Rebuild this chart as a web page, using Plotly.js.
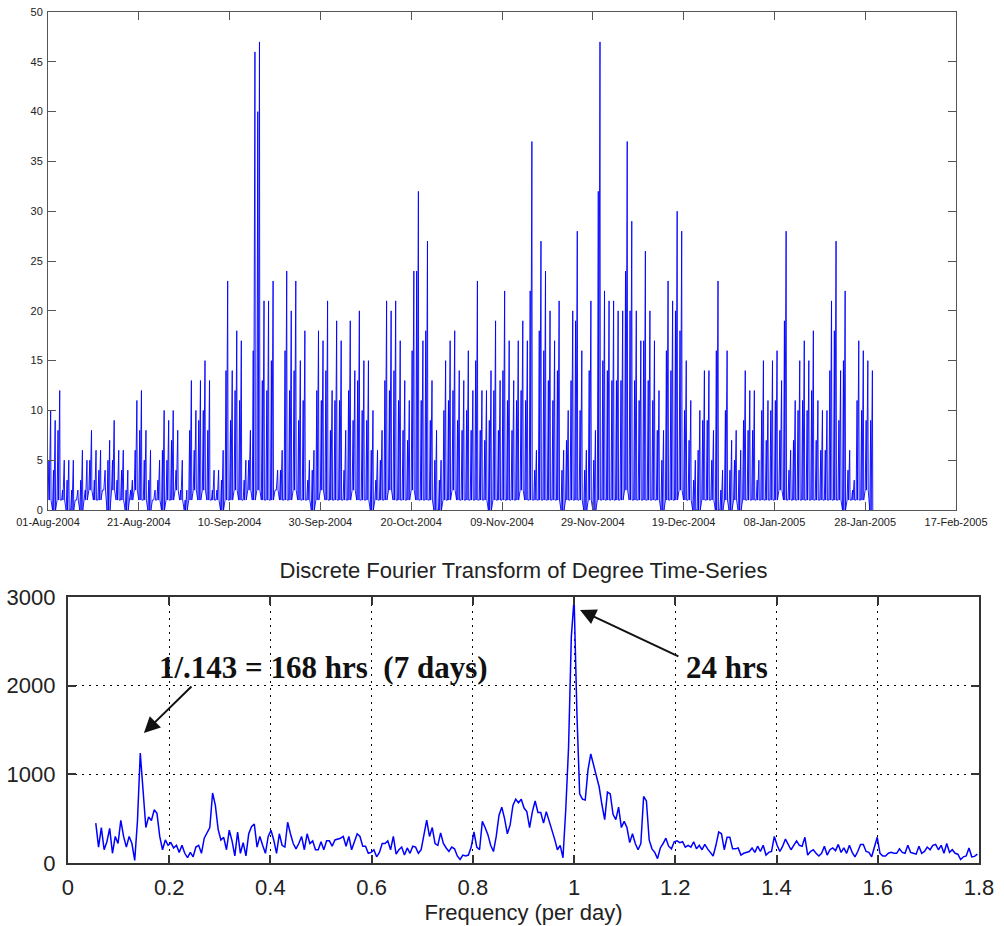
<!DOCTYPE html>
<html><head><meta charset="utf-8">
<script src="https://cdn.plot.ly/plotly-3.0.1.min.js"></script>
<style>html,body{margin:0;padding:0;background:#fff}#chart{width:1004px;height:926px}</style>
</head><body><div id="chart"></div>
<script>
// ---------- Top panel: degree time-series (per-day readings) ----------
const startDate = [2004, 7, 1]; // 01-Aug-2004 (UTC, month 0-based)
const dailyPeak = [
10,9,12,5,5,5,2,6,5,8,6,6,4,7,9,6,6,4,3,11,12,8,6,2,5,10,9,10,8,5,2,13,10,13,15,13,4,4,6,
23,14,18,17,5,8,46,47,21,21,23,4,6,24,20,23,15,18,5,6,18,17,21,12,19,
17,8,19,14,20,15,15,10,6,8,21,20,21,17,13,11,24,32,17,27,13,8,5,15,17,18,14,13,16,12,23,12,12,14,19,13,
22,17,13,17,19,17,37,6,27,24,20,17,21,6,10,20,28,16,6,21,8,47,22,21,21,20,20,37,29,20,17,26,20,17,12,8,23,
21,30,28,15,11,5,10,14,14,8,23,4,16,7,8,6,14,12,12,5,15,11,15,16,13,28,6,11,15,17,15,18,11,10,10,21,27,14,22,6,3,17,16,15,14
];
const dailySecond = [
5,4,8,2,3,2,1,3,2,5,3,4,2,5,5,3,4,2,2,6,8,5,3,1,3,6,5,7,4,2,1,8,6,9,10,8,2,2,3,
14,9,12,11,3,5,16,40,13,12,15,2,4,16,12,14,9,11,3,4,12,11,14,8,11,
11,4,12,9,13,10,9,6,3,5,13,12,14,11,8,7,16,24,11,18,9,5,3,10,11,12,9,8,10,8,15,8,7,9,12,8,
14,11,8,11,12,11,22,4,18,16,13,11,14,4,7,13,19,10,4,14,5,32,15,14,13,13,13,24,20,13,11,17,13,11,8,5,16,
14,20,18,10,7,3,6,9,9,5,16,2,10,4,5,4,9,8,8,3,10,7,10,11,8,19,4,7,10,11,10,12,7,6,6,14,18,9,15,4,2,11,10,9,9
];
const dailyLow = [
1,0,1,1,0,0,1,0,1,2,1,1,2,0,2,1,1,0,1,2,1,1,0,1,1,0,1,1,2,1,0,1,2,1,2,1,1,1,0,
1,1,2,1,1,2,1,2,1,1,1,2,1,1,1,2,1,1,1,0,1,2,1,1,1,
1,1,1,2,1,1,1,0,1,1,1,2,1,1,1,1,2,1,1,1,1,0,0,1,1,2,1,1,1,1,1,1,1,0,1,1,
1,1,1,1,2,1,1,1,1,1,1,1,1,0,1,1,1,1,0,1,0,1,1,1,1,1,1,2,1,1,1,1,1,1,1,0,1,
1,1,2,1,1,0,0,1,1,1,0,0,1,0,1,0,1,1,1,1,1,1,1,1,2,1,1,1,1,1,1,1,1,1,1,1,1,1,0,1,1,1,1,2,0
];
// hour of day at which each reading of a day is placed: low, second spike, low, main spike, low
const readingHours = [0, 5, 7, 14, 16];
const topTickDates = ['2004-08-01','2004-08-21','2004-09-10','2004-09-30','2004-10-20','2004-11-09','2004-11-29','2004-12-19','2005-01-08','2005-01-28','2005-02-17'];
const topTickLabels = ['01-Aug-2004','21-Aug-2004','10-Sep-2004','30-Sep-2004','20-Oct-2004','09-Nov-2004','29-Nov-2004','19-Dec-2004','08-Jan-2005','28-Jan-2005','17-Feb-2005'];
const topYTicks = [0,5,10,15,20,25,30,35,40,45,50];

// ---------- Bottom panel: DFT magnitude ----------
const dftStartBin = 10;     // first plotted bin
const binsPerDay = 182;     // bins per 1/day (series length in days)
const dftAmplitude = [
450,180,400,150,240,390,110,300,220,480,
300,180,300,220,30,480,1240,820,400,520,
480,600,560,300,150,260,200,230,170,200,
120,200,110,60,120,70,180,200,110,280,
350,400,790,650,380,260,290,150,370,250,
80,350,110,230,80,330,410,440,180,300,
200,110,300,370,260,110,330,200,180,460,
330,220,160,220,300,150,330,220,250,150,
150,240,150,250,250,190,260,270,280,300,
190,300,150,240,330,300,190,190,110,120,
150,70,120,220,220,250,150,
300,100,150,180,90,170,110,190,180,110,
150,300,485,300,400,220,200,340,220,170,
130,180,160,80,40,90,80,90,180,350,
180,150,470,400,320,200,130,300,540,630,
500,330,430,650,720,680,720,620,580,400,
580,700,570,570,450,580,480,370,270,150,
200,60,600,1300,2550,2980,1700,780,720,710,
1050,1230,1110,990,860,660,490,800,780,550,
490,630,400,470,400,230,330,220,150,220,
750,700,260,160,120,50,170,220,280,190,
160,240,250,230,240,
180,200,180,240,160,200,150,210,160,120,
80,200,350,330,150,290,290,160,160,170,
90,110,120,130,170,120,190,130,200,90,
120,130,300,200,130,190,270,200,150,200,
250,200,190,290,90,130,150,110,80,110,
190,90,150,170,140,210,120,170,110,200,
120,70,130,210,210,130,120,70,170,290,
110,80,80,110,120,110,110,160,120,110,
200,120,110,100,190,110,130,180,150,200,
210,150,200,110,220,120,150,110,100,40,
70,80,170,70,75,100
];
const dftTicks = [0,0.2,0.4,0.6,0.8,1,1.2,1.4,1.6,1.8];
const dftTickLabels = ['0','0.2','0.4','0.6','0.8','1','1.2','1.4','1.6','1.8'];
const dftYTicks = [0,1000,2000,3000];
const dftTitle = 'Discrete Fourier Transform of Degree Time-Series';
const dftXTitle = 'Frequency (per day)';
const note7days = '1/.143 = 168 hrs\u00a0 (7 days)';
const note24h = '24 hrs';

// ---------- build series ----------
function stamp(day, hour) {
  const ms = Date.UTC(startDate[0], startDate[1], startDate[2]) + (day * 24 + hour) * 3600000;
  return new Date(ms).toISOString().slice(0, 16).replace('T', ' ');
}
const tx = [], ty = [];
for (let d = 0; d < dailyPeak.length; d++) {
  const vals = [dailyLow[d], dailySecond[d], dailyLow[d], dailyPeak[d], dailyLow[d]];
  for (let j = 0; j < readingHours.length; j++) {
    tx.push(stamp(d, readingHours[j]));
    ty.push(vals[j]);
  }
}
const fx = dftAmplitude.map((_, i) => (dftStartBin + i) / binsPerDay);

const axisFontTop = {family: 'Liberation Sans, Arial, sans-serif', size: 11, color: '#222'};
const axisFontBot = {family: 'Liberation Sans, Arial, sans-serif', size: 22, color: '#222'};

const data = [
  {x: tx, y: ty, type: 'scatter', mode: 'lines', xaxis: 'x', yaxis: 'y',
   line: {color: 'rgb(0,0,255)', width: 0.9}, hoverinfo: 'skip'},
  {x: fx, y: dftAmplitude, type: 'scatter', mode: 'lines', xaxis: 'x2', yaxis: 'y2',
   line: {color: 'rgb(0,0,255)', width: 1.5}, hoverinfo: 'skip'}
];

const layout = {
  width: 1004, height: 926,
  margin: {l: 0, r: 0, t: 0, b: 0},
  paper_bgcolor: '#fff', plot_bgcolor: '#fff',
  showlegend: false,
  title: {text: dftTitle, x: 0.5214, xref: 'paper', xanchor: 'center',
          y: 0.3844, yref: 'paper', yanchor: 'middle',
          font: {family: 'Liberation Sans, Arial, sans-serif', size: 22, color: '#222'}},
  xaxis: {domain: [0.0478, 0.9522], anchor: 'y', type: 'date',
          range: ['2004-08-01', '2005-02-17'],
          tickmode: 'array', tickvals: topTickDates, ticktext: topTickLabels,
          ticks: 'inside', ticklen: 8, tickwidth: 1, tickcolor: '#555',
          showline: true, linecolor: '#555', linewidth: 1, mirror: 'ticks',
          showgrid: false, zeroline: false, tickfont: axisFontTop, ticklabelstandoff: 2},
  yaxis: {domain: [0.4492, 0.987], anchor: 'x', range: [0, 50],
          tickmode: 'array', tickvals: topYTicks,
          ticks: 'inside', ticklen: 8, tickwidth: 1, tickcolor: '#555',
          showline: true, linecolor: '#555', linewidth: 1, mirror: 'ticks',
          showgrid: false, zeroline: false, tickfont: axisFontTop, ticklabelstandoff: 2},
  xaxis2: {domain: [0.0677, 0.9751], anchor: 'y2', range: [0, 1.8],
           tickmode: 'array', tickvals: dftTicks, ticktext: dftTickLabels,
           ticks: 'inside', ticklen: 8, tickwidth: 2, tickcolor: '#333',
           showline: true, linecolor: '#333', linewidth: 2, mirror: 'ticks',
           showgrid: true, gridcolor: '#000', gridwidth: 1, griddash: '2px,5px',
           zeroline: false, tickfont: axisFontBot, ticklabelstandoff: 4,
           title: {text: dftXTitle, font: axisFontBot, standoff: 4}},
  yaxis2: {domain: [0.068, 0.3553], anchor: 'x2', range: [0, 3000],
           tickmode: 'array', tickvals: dftYTicks,
           ticks: 'inside', ticklen: 8, tickwidth: 2, tickcolor: '#333',
           showline: true, linecolor: '#333', linewidth: 2, mirror: 'ticks',
           showgrid: true, gridcolor: '#000', gridwidth: 1, griddash: '2px,5px',
           zeroline: false, tickfont: axisFontBot, ticklabelstandoff: 6},
  annotations: [
    {text: '<b>' + note7days + '</b>', xref: 'x2', yref: 'y2', x: 0.504, y: 2210,
     showarrow: false, xanchor: 'center', yanchor: 'middle',
     font: {family: 'Liberation Serif, Times New Roman, serif', size: 31, color: '#111'}},
    {text: '', xref: 'x2', yref: 'y2', x: 0.150, y: 1466,
     axref: 'x2', ayref: 'y2', ax: 0.247, ay: 2007,
     showarrow: true, arrowhead: 2, arrowsize: 1.6, arrowwidth: 2, arrowcolor: '#111'},
    {text: '<b>' + note24h + '</b>', xref: 'x2', yref: 'y2', x: 1.302, y: 2210,
     showarrow: false, xanchor: 'center', yanchor: 'middle',
     font: {family: 'Liberation Serif, Times New Roman, serif', size: 31, color: '#111'}},
    {text: '', xref: 'x2', yref: 'y2', x: 1.0117, y: 2853,
     axref: 'x2', ayref: 'y2', ax: 1.209, ay: 2323,
     showarrow: true, arrowhead: 2, arrowsize: 1.6, arrowwidth: 2, arrowcolor: '#111'}
  ]
};

Plotly.newPlot('chart', data, layout, {staticPlot: true, displayModeBar: false});
</script>
</body></html>
